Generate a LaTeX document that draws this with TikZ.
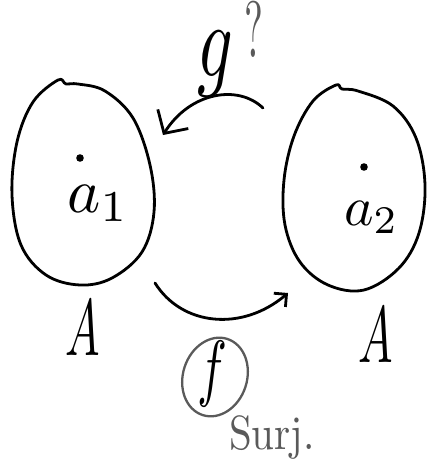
\documentclass[tikz,border=0pt]{standalone}
\usetikzlibrary{arrows.meta,shapes.geometric}
\definecolor{pencil}{HTML}{5A5A5A}
\tikzset{
  stroke/.style={line width=2.8pt, line cap=round, line join=round},
  setoval/.style={stroke},
  bigtext/.style={inner sep=0pt, anchor=base},
  grayink/.style={text=pencil},
}
\begin{document}
\begin{tikzpicture}[x=1pt,y=-1pt]
\useasboundingbox[fill=white] (0,0) rectangle (427,469);
% left set
\draw[setoval] plot[smooth cycle, tension=0.6] coordinates {
 (58,80) (66,84) (78,84) (105,91) (133,118) (150,165) (154,212) (142,252)
 (112,278) (80,285) (46,275) (21,245) (12,195) (17,142) (33,102)};
% right set
\draw[setoval] plot[smooth cycle, tension=0.6] coordinates {
 (336,85) (342,89) (358,91) (393,106) (416,138) (425,185) (419,233)
 (399,268) (364,290) (328,285) (300,262) (285,225) (284,180) (294,136) (313,101)};
% dots
\fill (80,158) circle (3.8);
\fill (364,167) circle (3.8);
% labels in sets
\node[bigtext, anchor=base west, scale=6.3] (a1) at (66,212) {$a_{1}$};
\node[bigtext, anchor=base west, scale=5.6] (a2) at (343,225) {$a_{2}$};
\node[bigtext, xscale=4.6, yscale=8] (A1) at (83,355) {$A$};
\node[bigtext, xscale=4.6, yscale=8] (A2) at (376,362) {$A$};
% g arrow
\coordinate (gs) at (263,108);
\coordinate (ge) at (163,135);
\draw[stroke, -{Straight Barb[length=17pt,width=36pt,line width=2.8pt]}]
  (gs) .. controls (238,84) and (190,92) .. (ge);
\node[bigtext, xscale=7, yscale=10.5] (g) at (215,76) {$g$};
\node[bigtext, grayink, xscale=4, yscale=8] (q) at (254,57) {?};
% f arrow
\coordinate (fs) at (155,283);
\coordinate (fe) at (288,293);
\draw[stroke, -{Straight Barb[length=9pt,width=18pt,line width=2.8pt]}]
  (fs) .. controls (182,326) and (242,332) .. (fe);
\node[bigtext, xscale=5, yscale=7.4] (f) at (212,392) {$f$};
\draw[pencil, line width=2.3pt, rotate around={-18:(215,377)}] (215,377) ellipse [x radius=32, y radius=40];
\node[bigtext, grayink, xscale=4.1, yscale=4.8] (surj) at (272,449) {Surj.};
\end{tikzpicture}
\end{document}
